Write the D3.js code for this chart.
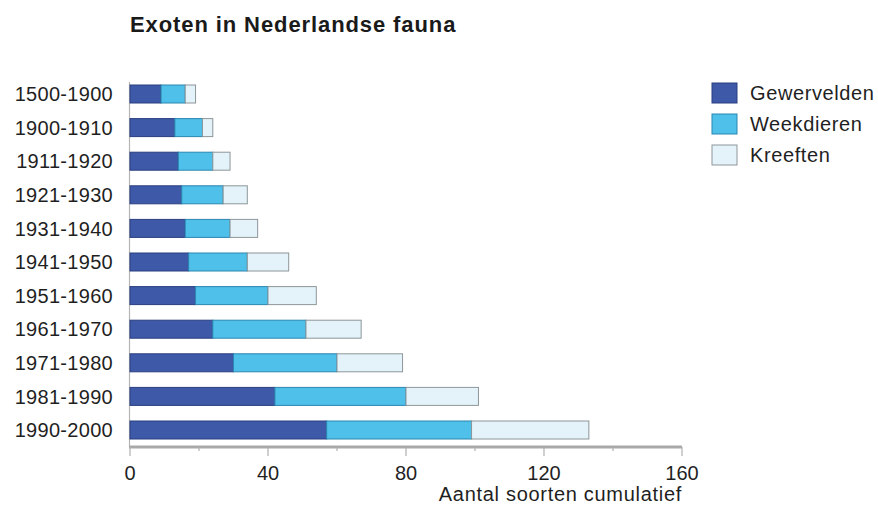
<!DOCTYPE html>
<html>
<head>
<meta charset="utf-8">
<script src="https://cdn.jsdelivr.net/npm/d3@7"></script>
<style>
  html, body { margin: 0; padding: 0; background: #fff; }
  svg { display: block; font-family: "Liberation Sans", Arial, sans-serif; }
</style>
</head>
<body>
<svg id="chart" width="878" height="505"></svg>
<script>
// Periods (rows, top to bottom)
const periods = ["1500-1900", "1900-1910", "1911-1920", "1921-1930", "1931-1940",
  "1941-1950", "1951-1960", "1961-1970", "1971-1980", "1981-1990", "1990-2000"];

// Number of exotic species per group (stacked, cumulative over time)
const gewervelden = [9, 13, 14, 15, 16, 17, 19, 24, 30, 42, 57];
const weekdieren  = [7, 8, 10, 12, 13, 17, 21, 27, 30, 38, 42];
const kreeften    = [3, 3, 5, 7, 8, 12, 14, 16, 19, 21, 34];

const seriesNames = ["Gewervelden", "Weekdieren", "Kreeften"];
const xTicks = [0, 40, 80, 120, 160];
const xMinorTicks = [20, 60, 100, 140];

const fills   = ["#3d59a7", "#4ec0ea", "#e3f3f9"];
const strokes = ["#2b3f80", "#2a86b0", "#8e9699"];

const rows = periods.map((p, i) => ({
  period: p,
  Gewervelden: gewervelden[i],
  Weekdieren: weekdieren[i],
  Kreeften: kreeften[i]
}));

const svg = d3.select("#chart");

const x = d3.scaleLinear().domain([0, 160]).range([130, 682]);
const y = d3.scalePoint().domain(periods).range([94, 430]);
const barH = 18;

const stacked = d3.stack().keys(seriesNames)(rows);

// Title
svg.append("text")
  .attr("x", 130).attr("y", 32)
  .attr("font-size", 22).attr("font-weight", "bold").attr("fill", "#1a1a1a")
  .attr("letter-spacing", 0.9)
  .text("Exoten in Nederlandse fauna");

// Vertical axis line
svg.append("line")
  .attr("x1", 129.5).attr("x2", 129.5)
  .attr("y1", 82).attr("y2", 447)
  .attr("stroke", "#b5b5b5").attr("stroke-width", 1.2);

// Bars
svg.append("g").selectAll("g")
  .data(stacked)
  .join("g")
  .attr("fill", (d, i) => fills[i])
  .attr("stroke", (d, i) => strokes[i])
  .attr("stroke-width", 1)
  .selectAll("rect")
  .data(d => d)
  .join("rect")
  .attr("x", d => x(d[0]))
  .attr("width", d => x(d[1]) - x(d[0]))
  .attr("y", d => y(d.data.period) - barH / 2)
  .attr("height", barH);

// Category labels
svg.append("g").selectAll("text")
  .data(periods)
  .join("text")
  .attr("x", 113)
  .attr("y", d => y(d))
  .attr("dy", "0.36em")
  .attr("text-anchor", "end")
  .attr("font-size", 20)
  .attr("letter-spacing", 0.3)
  .attr("fill", "#1f1f1f")
  .text(d => d);

// Horizontal axis
const axisY = 447;
svg.append("line")
  .attr("x1", x(0) - 1).attr("x2", x(160))
  .attr("y1", axisY).attr("y2", axisY)
  .attr("stroke", "#a9a9a9").attr("stroke-width", 3);

svg.append("g").selectAll("line")
  .data(xTicks)
  .join("line")
  .attr("x1", d => x(d)).attr("x2", d => x(d))
  .attr("y1", axisY).attr("y2", axisY + 9)
  .attr("stroke", "#b0b0b0").attr("stroke-width", 1.2);

svg.append("g").selectAll("line")
  .data(xMinorTicks)
  .join("line")
  .attr("x1", d => x(d)).attr("x2", d => x(d))
  .attr("y1", axisY).attr("y2", axisY + 4)
  .attr("stroke", "#b0b0b0").attr("stroke-width", 1.2);

svg.append("g").selectAll("text")
  .data(xTicks)
  .join("text")
  .attr("x", d => x(d))
  .attr("y", 480)
  .attr("text-anchor", "middle")
  .attr("font-size", 20)
  .attr("fill", "#1f1f1f")
  .text(d => d);

svg.append("text")
  .attr("x", 682).attr("y", 501)
  .attr("text-anchor", "end")
  .attr("font-size", 20)
  .attr("letter-spacing", 0.7)
  .attr("fill", "#1f1f1f")
  .text("Aantal soorten cumulatief");

// Legend
const legend = svg.append("g").selectAll("g")
  .data(seriesNames)
  .join("g")
  .attr("transform", (d, i) => `translate(712, ${83 + i * 31})`);

legend.append("rect")
  .attr("width", 25).attr("height", 20)
  .attr("fill", (d, i) => fills[i])
  .attr("stroke", (d, i) => strokes[i])
  .attr("stroke-width", 1);

legend.append("text")
  .attr("x", 38).attr("y", 10)
  .attr("dy", "0.36em")
  .attr("font-size", 20)
  .attr("letter-spacing", 0.6)
  .attr("fill", "#1f1f1f")
  .text(d => d);
</script>
</body>
</html>
